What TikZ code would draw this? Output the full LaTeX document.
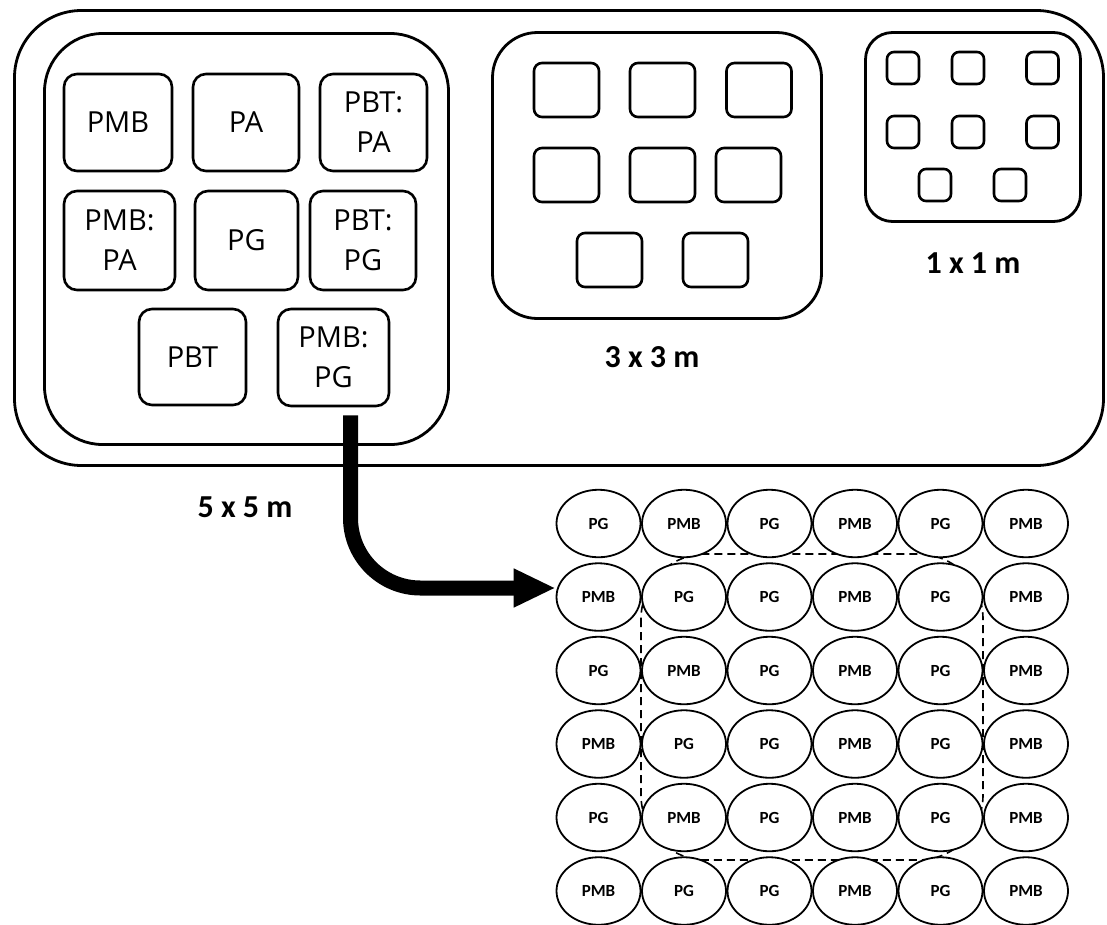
\documentclass[tikz,border=0pt]{standalone}
\usepackage{fontspec}
\setmainfont{Open Sans}
\newfontfamily\lblfont{Carlito}
\usetikzlibrary{arrows.meta,shapes.geometric}
\begin{document}
\begin{tikzpicture}[x=1pt,y=-1pt,
  frame/.style={draw=black, line width=2.8pt, inner sep=0pt},
  plotbox/.style={draw=black, line width=2.6pt, rounded corners=13pt, inner sep=0pt,
    align=center, font=\fontsize{29}{40}\selectfont},
  mid/.style={draw=black, line width=2.6pt, rounded corners=8pt, inner sep=0pt,
    minimum width=65pt, minimum height=54pt},
  small/.style={draw=black, line width=2.6pt, rounded corners=7pt, inner sep=0pt,
    minimum width=32pt, minimum height=32pt},
  size label/.style={font=\lblfont\bfseries\fontsize{32}{38}\selectfont, inner sep=0pt},
  cell/.style={ellipse, draw=black, fill=white, line width=1.8pt, inner sep=0pt,
    minimum width=84pt, minimum height=67.5pt, font=\lblfont\bfseries\fontsize{17}{19}\selectfont},
  flow/.style={line width=15pt, -{Triangle[length=42pt,width=36pt]}, rounded corners=70pt}
]
\useasboundingbox (0,0) rectangle (1107,924);

% frames
\node[frame, rounded corners=67pt, minimum width=1089pt, minimum height=455pt] (outer) at (559,238) {};
\node[frame, rounded corners=58pt, minimum width=404pt, minimum height=411pt] (box5) at (246.5,239) {};
\node[frame, rounded corners=45pt, minimum width=329pt, minimum height=286pt] (box3) at (657,175.5) {};
\node[frame, rounded corners=27pt, minimum width=215pt, minimum height=189pt] (box1) at (973,127) {};

% 5 x 5 plots
\node[plotbox, minimum width=108pt, minimum height=97pt] (pmb)   at (118,122.5) {PMB};
\node[plotbox, minimum width=106pt, minimum height=97pt] (pa)    at (246,122.5) {PA};
\node[plotbox, minimum width=107pt, minimum height=97pt] (pbtpa) at (373.5,122.5) {PBT:\\PA};
\node[plotbox, minimum width=111pt, minimum height=99pt] (pmbpa) at (119.5,240.5) {PMB:\\PA};
\node[plotbox, minimum width=103pt, minimum height=99pt] (pg)    at (246.5,240.5) {PG};
\node[plotbox, minimum width=106pt, minimum height=99pt] (pbtpg) at (363,240.5) {PBT:\\PG};
\node[plotbox, minimum width=107pt, minimum height=96pt] (pbt)   at (192.5,357) {PBT};
\node[plotbox, minimum width=111pt, minimum height=97pt] (pmbpg) at (333.5,357.5) {PMB:\\PG};

% 3 x 3 plots
\node[mid] (m11) at (566.5,90) {};
\node[mid] (m12) at (662.5,90) {};
\node[mid] (m13) at (759,90) {};
\node[mid] (m21) at (566.5,175) {};
\node[mid] (m22) at (662.5,175) {};
\node[mid] (m23) at (748.5,175) {};
\node[mid] (m31) at (609.5,260) {};
\node[mid] (m32) at (715.5,260) {};

% 1 x 1 plots
\node[small] (s11) at (903,68) {};
\node[small] (s12) at (968,68) {};
\node[small] (s13) at (1042.5,68) {};
\node[small] (s21) at (903,132) {};
\node[small] (s22) at (968,132) {};
\node[small] (s23) at (1042.5,132) {};
\node[small] (s31) at (935,185) {};
\node[small] (s32) at (1010,185) {};

% size labels
\node[size label] (l5) at (245,507) {5 x 5 m};
\node[size label] (l3) at (652,357) {3 x 3 m};
\node[size label] (l1) at (973,263) {1 x 1 m};

% dashed inner area
\draw[line width=1.6pt, dash pattern=on 8pt off 5pt, rounded corners=65pt] (641,554) rectangle (983,860);

% grid of plants
\foreach \row [count=\r] in {{PG,PMB,PG,PMB,PG,PMB},{PMB,PG,PG,PMB,PG,PMB},{PG,PMB,PG,PMB,PG,PMB},{PMB,PG,PG,PMB,PG,PMB},{PG,PMB,PG,PMB,PG,PMB},{PMB,PG,PG,PMB,PG,PMB}} {
  \foreach \t [count=\c] in \row {
    \node[cell] (e\r\c) at ({598.5+85.5*(\c-1)},{523.5+73.5*(\r-1)}) {\t};
  }
}

% arrow
\draw[flow] ([xshift=17pt,yshift=-8pt]pmbpg.south) |- ([yshift=9pt]e21.west);
\end{tikzpicture}
\end{document}
